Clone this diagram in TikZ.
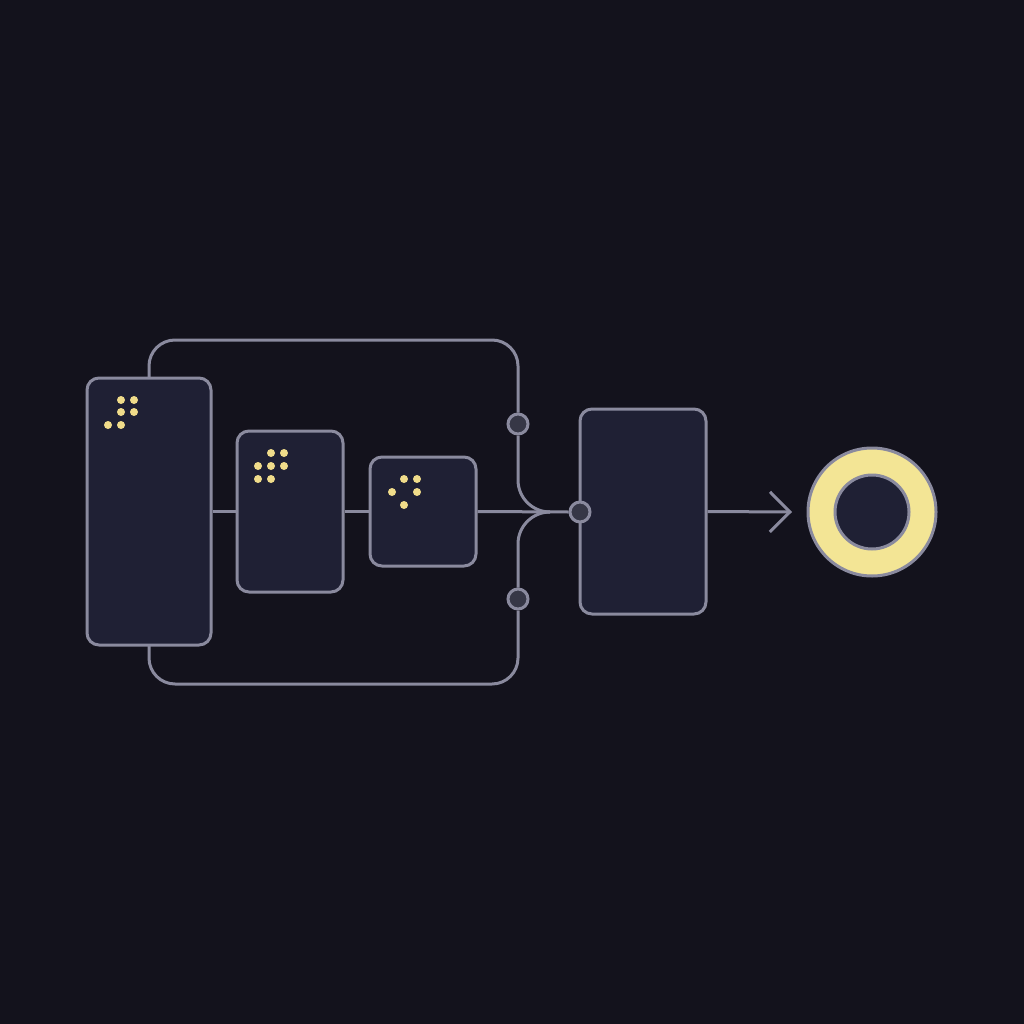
\documentclass[tikz,border=0pt]{standalone}
\usetikzlibrary{arrows.meta}
\definecolor{bg}{HTML}{13121C}
\definecolor{boxfill}{HTML}{1F2034}
\definecolor{edge}{HTML}{8A8A9E}
\definecolor{dotc}{HTML}{F0DC8A}
\definecolor{ringc}{HTML}{F3E595}
\definecolor{knob}{HTML}{363746}
\begin{document}
\begin{tikzpicture}[x=1pt,y=-1pt,
  block/.style={draw=edge,fill=boxfill,line width=3pt,rounded corners=12pt,inner sep=0pt,minimum width=#1},
  knobc/.style={circle,draw=edge,fill=knob,line width=3pt,inner sep=0pt,minimum size=20pt},
  wire/.style={draw=edge,line width=3pt},
  ydot/.style={circle,fill=dotc,inner sep=0pt,minimum size=8pt}]
\fill[bg] (0,0) rectangle (1024,1024);
\useasboundingbox (0,0) rectangle (1024,1024);
% wires first
\coordinate (Atop) at (149,378);
\coordinate (Abot) at (149,645);
\node[knobc] (T) at (518,424) {};
\node[knobc] (Bk) at (518,599) {};
\coordinate (M) at (550,512);
\draw[wire,rounded corners=26pt] (Atop) |- (518,340) -- (T.north);
\draw[wire,rounded corners=26pt] (Abot) |- (518,684) -- (Bk.south);
\draw[wire] (T.south) -- (518,480) .. controls (518,497.7) and (532.3,512) .. (M);
\draw[wire] (Bk.north) -- (518,544) .. controls (518,526.3) and (532.3,512) .. (M);
% blocks
\node[block=124pt,minimum height=267pt] (A) at (149,511.5) {};
\node[block=106pt,minimum height=161pt] (B) at (290,511.5) {};
\node[block=106pt,minimum height=109pt] (C) at (423,511.5) {};
\node[block=126pt,minimum height=205pt] (D) at (643,511.5) {};
\node[knobc] (J) at (580,512) {};
\draw[wire] (A.east) -- (B.west);
\draw[wire] (B.east) -- (C.west);
\draw[wire] (C.east) -- (J.west);
\coordinate (tip) at (792,512);
\draw[wire,-{Straight Barb[length=20pt,width=40pt,line width=3pt]}] (D.east) -- (tip);
% ring
\node[circle,draw=edge,fill=ringc,line width=3pt,minimum size=128pt,inner sep=0pt] (R) at (872,512) {};
\node[circle,draw=edge,fill=boxfill,line width=3pt,minimum size=74pt,inner sep=0pt] (Ri) at (R.center) {};
% dots
\foreach \p [count=\i] in {(121,400),(134,400),(121,412),(134,412),(108,425),(121,425)} \node[ydot] (a\i) at \p {};
\foreach \p [count=\i] in {(271,453),(284,453),(258,466),(271,466),(284,466),(258,479),(271,479)} \node[ydot] (b\i) at \p {};
\foreach \p [count=\i] in {(404,479),(417,479),(392,492),(417,492),(404,505)} \node[ydot] (c\i) at \p {};
\end{tikzpicture}
\end{document}
